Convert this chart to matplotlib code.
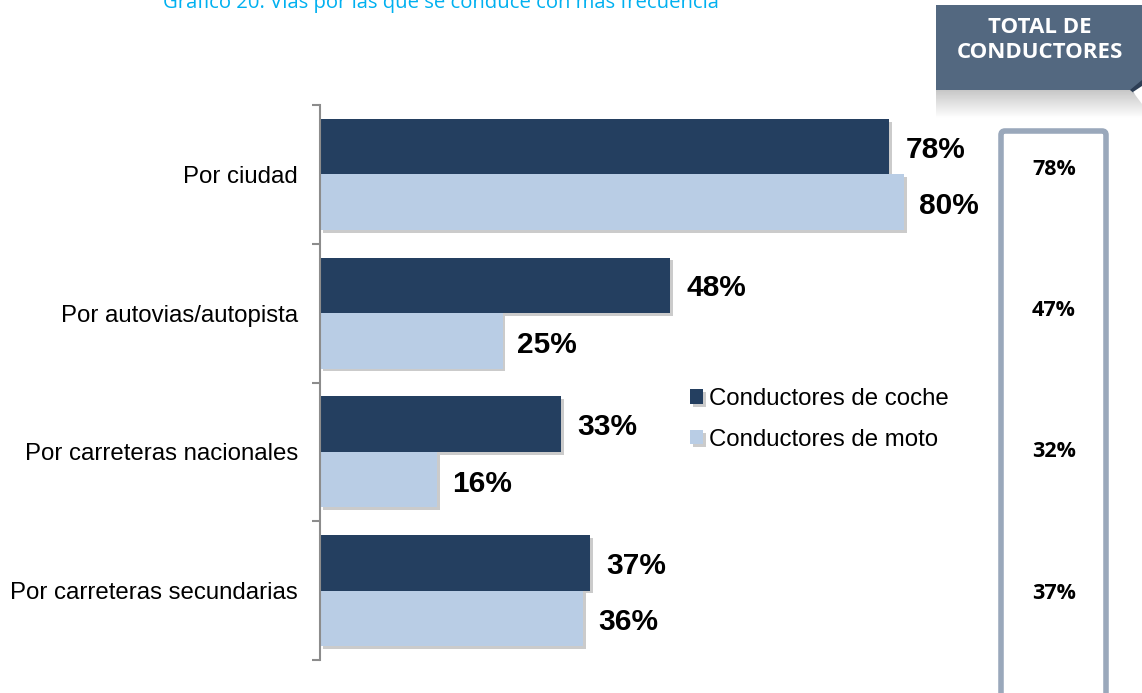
import matplotlib
matplotlib.use("Agg")
import matplotlib.pyplot as plt
import matplotlib.patheffects as pe
import matplotlib.transforms as mtransforms
from matplotlib.patches import Rectangle, FancyBboxPatch, Polygon
import numpy as np

# Data
categories = ["Por ciudad", "Por autovias/autopista",
              "Por carreteras nacionales", "Por carreteras secundarias"]
coche = [78, 48, 33, 37]
moto = [80, 25, 16, 36]
total = [78, 47, 32, 37]
series_names = ["Conductores de coche", "Conductores de moto"]

col_coche = "#243F60"
col_moto = "#B9CDE5"
W, H = 1142, 693

plt.rcParams["font.family"] = ["Liberation Sans", "DejaVu Sans"]

fig = plt.figure(figsize=(W / 100, H / 100), dpi=100)

# background layer in pixel coords for the decorations
deco = fig.add_axes([0, 0, 1, 1], zorder=0)
deco.set_xlim(0, W)
deco.set_ylim(H, 0)
deco.axis("off")

# main bar axes
ax = fig.add_axes([320 / W, 1 - 660 / H, 680 / W, 555 / H], zorder=2)
ax.patch.set_alpha(0)
y = np.arange(len(categories))
h = 0.4
shadow = [pe.SimplePatchShadow(offset=(2, -2), shadow_rgbFace="#999999", alpha=0.5), pe.Normal()]
b1 = ax.barh(y - h / 2, coche, height=h, color=col_coche, label=series_names[0])
b2 = ax.barh(y + h / 2, moto, height=h, color=col_moto, label=series_names[1])
for b in list(b1) + list(b2):
    b.set_path_effects(shadow)

ax.set_xlim(0, 680 / 7.3)
ax.set_ylim(len(categories) - 0.5, -0.5)

for yi, v in zip(y, coche):
    ax.annotate(f"{v}%", (v, yi - h / 2), xytext=(16, -3), textcoords="offset pixels",
                ha="left", va="center", fontsize=21.5, fontweight="bold", color="black")
for yi, v in zip(y, moto):
    ax.annotate(f"{v}%", (v, yi + h / 2), xytext=(15, -4), textcoords="offset pixels",
                ha="left", va="center", fontsize=21.5, fontweight="bold", color="black")

for s in ["top", "right", "bottom"]:
    ax.spines[s].set_visible(False)
ax.spines["left"].set_color("#8c8c8c")
ax.spines["left"].set_linewidth(1.5)
ax.set_xticks([])
ax.set_yticks(y)
ax.set_yticklabels(categories, fontsize=17.3)
ax.tick_params(axis="y", length=0, pad=16)
ax.set_yticks(np.arange(-0.5, len(categories)), minor=True)
ax.tick_params(axis="y", which="minor", length=6, width=1.5, color="#8c8c8c")

leg = ax.legend(loc="upper left", bbox_to_anchor=(690 / W, 1 - 388 / H),
                bbox_transform=fig.transFigure, frameon=False, fontsize=17.3,
                handlelength=0.55, handleheight=0.55, handletextpad=0.25,
                labelspacing=0.78, borderaxespad=0, borderpad=0)

# title (cut at the top edge)
fig.text(163 / W, 1 - 8 / H, "Gráfico 20. Vías por las que se conduce con más frecuencia",
         ha="left", va="baseline", fontsize=14.6, color="#00B0F0", family="Open Sans")

# header box "TOTAL DE CONDUCTORES"
deco.add_patch(Rectangle((936, 5), W - 936, 85, color="#536880", lw=0))
grad = np.linspace(0.78, 1.0, 64).reshape(-1, 1)
deco.imshow(grad, extent=(936, W, 118, 90), cmap="gray", vmin=0, vmax=1,
            aspect="auto", interpolation="bicubic")
deco.add_patch(Polygon([[1130, 90], [1142, 80], [1142, 100]], closed=True,
                       color="#2d3e55", lw=0))
deco.add_patch(Polygon([[1133, 92], [1142, 86], [1142, 104]], closed=True,
                       color="white", lw=0))
deco.text(1040, 40, "TOTAL DE\nCONDUCTORES", ha="center", va="center",
          fontsize=16, fontweight="bold", color="white", family="Open Sans",
          linespacing=1.2)
deco.set_xlim(0, W)
deco.set_ylim(H, 0)

# total column box
deco.add_patch(FancyBboxPatch((1001, 131), 105, 600, boxstyle="round,pad=0,rounding_size=4",
                              fc="white", ec="#9AA8BB", lw=4))

tr = mtransforms.blended_transform_factory(fig.transFigure, ax.transData)
for yi, v in zip(y, total):
    fig.text(1054 / W, yi * 1.018 - 0.036, f"{v}%", transform=tr, ha="center", va="center",
             fontsize=15.5, fontweight="bold", color="black", family="Open Sans", zorder=3)

fig.savefig("out.png", dpi=100)
